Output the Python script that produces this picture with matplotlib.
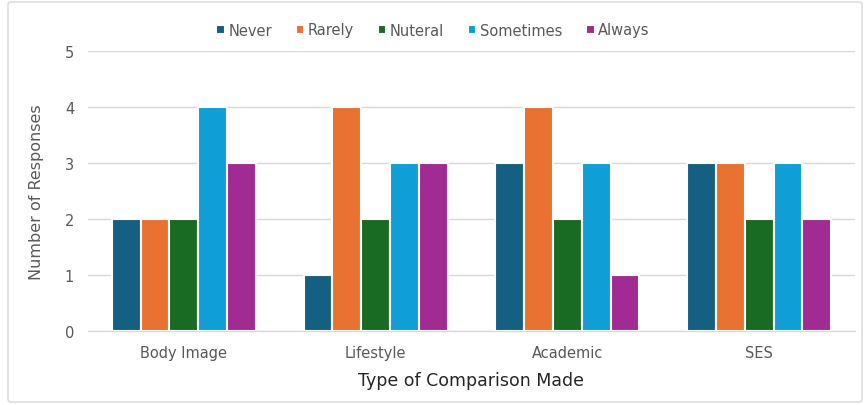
import matplotlib
matplotlib.use("Agg")
import matplotlib.pyplot as plt
import numpy as np
from matplotlib.patches import FancyBboxPatch

categories = ["Body Image", "Lifestyle", "Academic", "SES"]
series_names = ["Never", "Rarely", "Nuteral", "Sometimes", "Always"]
never = [2, 1, 3, 3]
rarely = [2, 4, 4, 3]
nuteral = [2, 2, 2, 2]
sometimes = [4, 3, 3, 3]
always = [3, 3, 1, 2]
colors = ["#156082", "#E97132", "#196B24", "#0F9ED5", "#A02B93"]

values = [never, rarely, nuteral, sometimes, always]

plt.rcParams["font.family"] = ["DejaVu Sans"]

fig = plt.figure(figsize=(8.67, 4.06), dpi=100)
ax = fig.add_axes([88 / 867, (406 - 332) / 406, (855 - 88) / 867, (332 - 52) / 406])

x = np.arange(len(categories))
group_w = 0.75
bw = group_w / len(series_names)
for i, (name, vals, c) in enumerate(zip(series_names, values, colors)):
    offs = (i - (len(series_names) - 1) / 2) * bw
    ax.bar(x + offs, vals, width=bw, color=c, edgecolor="white", linewidth=1.5,
           label=name, zorder=3)

ax.set_xlim(-0.5, len(categories) - 0.5)
ax.set_ylim(0, 5)
ax.set_yticks(range(0, 6))
ax.yaxis.grid(True, color="#D9D9D9", linewidth=1.0, zorder=0)
for s in ["top", "right", "left"]:
    ax.spines[s].set_visible(False)
ax.spines["bottom"].set_color("#D9D9D9")
ax.spines["bottom"].set_linewidth(1.0)
ax.tick_params(axis="both", length=0, colors="#595959", labelsize=10.5)
ax.tick_params(axis="x", pad=10)
ax.tick_params(axis="y", pad=10)
ax.set_xticks(x)
ax.set_xticklabels(categories)

ax.set_xlabel("Type of Comparison Made", fontsize=12.5, color="#262626", labelpad=8)
ax.set_ylabel("Number of Responses", fontsize=11.5, color="#595959", labelpad=15)

leg = fig.legend(loc="center", bbox_to_anchor=(433 / 867, 1 - 31 / 406), ncol=5,
                 frameon=False, fontsize=10.5, handlelength=0.6, handleheight=0.6,
                 handletextpad=0.25, columnspacing=1.6)
for t in leg.get_texts():
    t.set_color("#595959")

border = FancyBboxPatch((8 / 867, 3 / 406), (862 - 8) / 867, (403 - 3) / 406,
                        boxstyle="round,pad=0,rounding_size=0.005",
                        transform=fig.transFigure, fill=False,
                        edgecolor="#D9D9D9", linewidth=1.0)
fig.patches.append(border)

fig.savefig("out.png", dpi=100)
